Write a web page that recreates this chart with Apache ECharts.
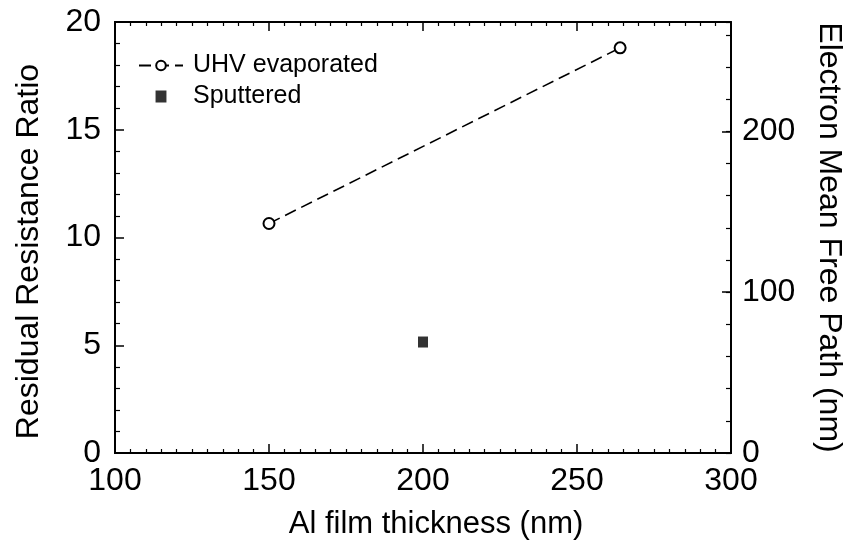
<!DOCTYPE html>
<html>
<head>
<meta charset="utf-8">
<script src="https://cdn.jsdelivr.net/npm/echarts@6/dist/echarts.min.js"></script>
<style>
  html, body { margin: 0; padding: 0; background: #fff; }
  #chart { width: 853px; height: 551px; }
</style>
</head>
<body>
<div id="chart"></div>
<script>
// data
const uhvThickness = [150, 264]
const uhvRatio = [10.65, 18.8]
const sputThickness = [200]
const sputRatio = [5.15]

const xTicks = [100, 150, 200, 250, 300]
const leftTicks = [0, 5, 10, 15, 20]
const rightTicks = [0, 100, 200]
// right axis: mean free path (nm) that matches RRR = 20 at the top
const mfpMax = 268

const font = '"Liberation Sans", Arial, Helvetica, sans-serif'
const fs = 32

const chart = echarts.init(document.getElementById('chart'))

const axisLine = () => ({ show: true, onZero: false, lineStyle: { color: '#000', width: 2 } })
const majorTick = () => ({ show: true, inside: true, length: 9, lineStyle: { color: '#000', width: 1.5 } })
const minorTick = (n, len) => ({ show: true, splitNumber: n, length: len, lineStyle: { color: '#000', width: 1.2 } })

// tick-only axes, so every side gets inward ticks
const xTickAxis = (pos) => ({
  type: 'value',
  min: xTicks[0],
  max: xTicks[xTicks.length - 1],
  interval: 50,
  position: pos,
  axisLine: axisLine(),
  axisTick: majorTick(),
  minorTick: minorTick(10, 4),
  axisLabel: { show: false },
  splitLine: { show: false }
})

const option = {
  animation: false,
  backgroundColor: '#fff',
  textStyle: { fontFamily: font, color: '#000' },
  grid: { left: 115, right: 122, top: 22, bottom: 98, containLabel: false },
  legend: {
    orient: 'vertical',
    left: 133,
    top: 48,
    itemGap: 6,
    itemWidth: 44,
    itemHeight: 12,
    textStyle: { fontFamily: font, fontSize: 25, color: '#000', padding: [0, 0, 0, 5] },
    data: [
      { name: 'UHV evaporated' },
      { name: 'Sputtered', icon: 'path://M0,0h10v11h-10z' }
    ]
  },
  xAxis: [
    {
      type: 'value',
      min: xTicks[0],
      max: xTicks[xTicks.length - 1],
      interval: 50,
      position: 'bottom',
      name: 'Al film thickness (nm)',
      nameLocation: 'middle',
      nameGap: 56,
      nameTextStyle: { fontFamily: font, fontSize: 31, color: '#000', padding: [0, 0, 0, 26] },
      axisLine: axisLine(),
      axisTick: { show: false },
      axisLabel: { margin: 12, fontFamily: font, fontSize: fs, color: '#000' },
      splitLine: { show: false }
    },
    xTickAxis('top'),
    xTickAxis('bottom')
  ],
  yAxis: [
    {
      type: 'value',
      min: leftTicks[0],
      max: leftTicks[leftTicks.length - 1],
      interval: 5,
      position: 'left',
      name: 'Residual Resistance Ratio',
      nameLocation: 'middle',
      nameGap: 70,
      nameRotate: 90,
      nameTextStyle: { fontFamily: font, fontSize: fs, color: '#000', padding: [0, 28, 0, 0] },
      axisLine: axisLine(),
      axisTick: { show: false },
      axisLabel: { margin: 14, fontFamily: font, fontSize: fs, color: '#000' },
      splitLine: { show: false }
    },
    {
      type: 'value',
      min: 0,
      max: mfpMax,
      interval: 100,
      position: 'right',
      name: 'Electron Mean Free Path (nm)',
      nameLocation: 'middle',
      nameGap: 82,
      nameRotate: -90,
      nameTextStyle: { fontFamily: font, fontSize: fs, color: '#000' },
      axisLine: axisLine(),
      axisTick: { show: false },
      axisLabel: {
        margin: 11,
        fontFamily: font,
        fontSize: fs,
        color: '#000',
        showMaxLabel: false,
        formatter: (v) => (rightTicks.indexOf(v) >= 0 ? String(v) : '')
      },
      splitLine: { show: false }
    },
    {
      // left ticks
      type: 'value',
      min: leftTicks[0],
      max: leftTicks[leftTicks.length - 1],
      interval: 5,
      position: 'left',
      axisLine: axisLine(),
      axisTick: majorTick(),
      minorTick: minorTick(5, 5),
      axisLabel: { show: false },
      splitLine: { show: false }
    },
    {
      // right minor ticks every 20 nm
      type: 'value',
      min: 0,
      max: mfpMax,
      interval: 20,
      position: 'right',
      axisLine: { show: false, onZero: false },
      axisTick: { show: true, inside: true, length: 5, lineStyle: { color: '#000', width: 1.2 } },
      axisLabel: { show: false },
      splitLine: { show: false }
    },
    {
      // right major ticks every 100 nm
      type: 'value',
      min: 0,
      max: mfpMax,
      interval: 100,
      position: 'right',
      axisLine: { show: false, onZero: false },
      axisTick: majorTick(),
      axisLabel: { show: false },
      splitLine: { show: false }
    }
  ],
  series: [
    {
      name: 'UHV evaporated',
      type: 'line',
      xAxisIndex: 0,
      yAxisIndex: 0,
      data: uhvThickness.map((x, i) => [x, uhvRatio[i]]),
      symbol: 'circle',
      symbolSize: 11,
      itemStyle: { color: '#fff', borderColor: '#000', borderWidth: 2 },
      lineStyle: { color: '#000', width: 1.6, type: [12, 6] }
    },
    {
      name: 'Sputtered',
      type: 'scatter',
      xAxisIndex: 0,
      yAxisIndex: 0,
      data: sputThickness.map((x, i) => [x, sputRatio[i]]),
      symbol: 'rect',
      symbolSize: [10, 11],
      itemStyle: { color: '#000' }
    }
  ]
}

chart.setOption(option)
</script>
</body>
</html>
